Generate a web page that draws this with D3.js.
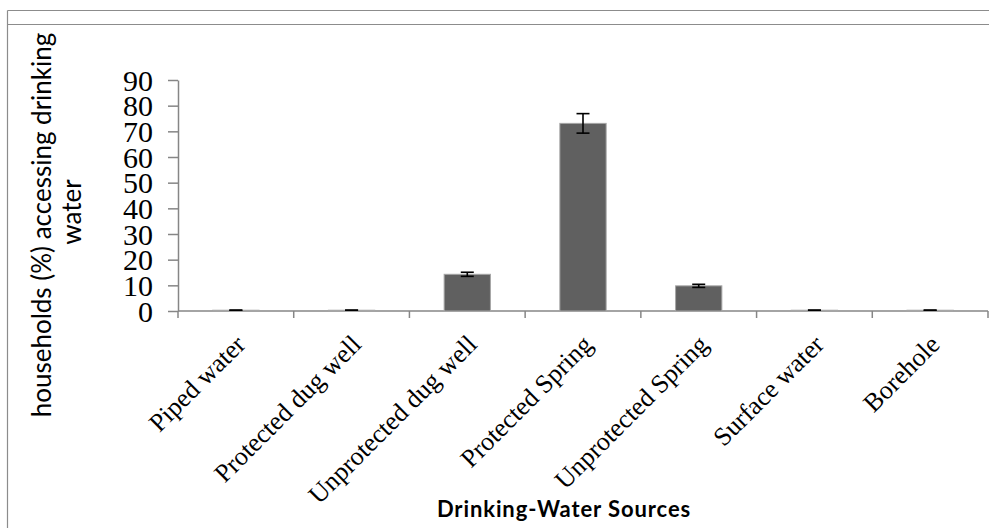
<!DOCTYPE html>
<html><head><meta charset="utf-8">
<script src="https://cdn.jsdelivr.net/npm/d3@7"></script>
<style>html,body{margin:0;padding:0;background:#fff;}</style>
</head><body>
<svg id="chart" width="989" height="528"></svg>
<script>
const categories = ["Piped water","Protected dug well","Unprotected dug well","Protected Spring","Unprotected Spring","Surface water","Borehole"];
const values = [0.3, 0.3, 14.3, 73.1, 9.8, 0.3, 0.3];
const errors = [0, 0, 0.8, 3.8, 0.6, 0, 0];
const yTicks = [0,10,20,30,40,50,60,70,80,90];
const yTitleLines = ["households (%) accessing drinking","water"];
const xTitle = "Drinking-Water Sources";

(function(){
const svg = d3.select("#chart");
const W = 989, H = 528;
const mLeft = 178, mRight = 988, mTop = 80, mBottom = 311;

// frame lines
const frame = svg.append("g").attr("stroke","#8c8c8c").attr("stroke-width",1.2).attr("fill","none");
frame.append("line").attr("x1",7.5).attr("x2",W).attr("y1",10.5).attr("y2",10.5);
frame.append("line").attr("x1",7.5).attr("x2",W).attr("y1",24.5).attr("y2",24.5);
frame.append("line").attr("x1",7.5).attr("x2",7.5).attr("y1",10.5).attr("y2",H);

const x = d3.scaleBand().domain(categories).range([mLeft, mRight]).paddingInner(0.6).paddingOuter(0.3);
const y = d3.scaleLinear().domain([0,90]).range([mBottom, mTop]);

// y axis
const yAxis = svg.append("g").attr("transform",`translate(${mLeft},0)`)
  .call(d3.axisLeft(y).tickValues(yTicks).tickSize(10).tickPadding(15).tickSizeOuter(0));
yAxis.select(".domain").attr("stroke","#868686").attr("stroke-width",1.5);
yAxis.selectAll(".tick line").attr("stroke","#868686").attr("stroke-width",1.5);
yAxis.selectAll(".tick text").attr("font-family","'Liberation Serif','Times New Roman',serif")
  .attr("font-size",30).attr("fill","#000").attr("dy","0.34em");

// x axis line + boundary ticks
const xg = svg.append("g");
xg.append("line").attr("x1",mLeft).attr("x2",mRight).attr("y1",mBottom).attr("y2",mBottom)
  .attr("stroke","#868686").attr("stroke-width",1.5);
const step = x.step();
const bounds = d3.range(categories.length+1).map(i => mLeft + i*step);
xg.selectAll("line.bt").data(bounds).enter().append("line").attr("class","bt")
  .attr("x1",d=>d).attr("x2",d=>d).attr("y1",mBottom).attr("y2",mBottom+7)
  .attr("stroke","#868686").attr("stroke-width",1.5);

// bars
svg.append("g").selectAll("rect").data(categories).enter().append("rect")
  .attr("x",d=>x(d)).attr("width",x.bandwidth())
  .attr("y",(d,i)=>y(values[i])).attr("height",(d,i)=>mBottom - y(values[i]))
  .attr("fill","#606060").attr("stroke","#a6a6a6").attr("stroke-width",1);

// error bars
const eg = svg.append("g").attr("stroke","#000").attr("stroke-width",1.6);
categories.forEach((c,i)=>{
  const cx = x(c) + x.bandwidth()/2;
  const y1 = y(values[i]+errors[i]), y2 = y(values[i]-errors[i]);
  eg.append("line").attr("x1",cx).attr("x2",cx).attr("y1",y1).attr("y2",y2);
  eg.append("line").attr("x1",cx-6.5).attr("x2",cx+6.5).attr("y1",y1).attr("y2",y1);
  eg.append("line").attr("x1",cx-6.5).attr("x2",cx+6.5).attr("y1",y2).attr("y2",y2);
});

// x labels
svg.append("g").selectAll("text").data(categories).enter().append("text")
  .attr("transform",d=>`translate(${x(d)+x.bandwidth()/2+11},${mBottom+35}) rotate(-45)`)
  .attr("text-anchor","end")
  .attr("font-family","'Liberation Serif','Times New Roman',serif")
  .attr("font-size",26).attr("fill","#000").text(d=>d);

// y title
const yCenters = [225, 212];
const yBase = [51, 81];
yTitleLines.forEach((t,i)=>{
  svg.append("text").attr("transform",`translate(${yBase[i]},${yCenters[i]}) rotate(-90)`)
    .attr("text-anchor","middle").attr("font-family","Lato, 'Open Sans', sans-serif")
    .attr("font-size",26).attr("fill","#000").text(t);
});

// x title
svg.append("text").attr("x",564).attr("y",517).attr("text-anchor","middle")
  .attr("font-family","Lato, sans-serif").attr("font-weight","bold")
  .attr("font-size",22).attr("letter-spacing","0.9px").attr("fill","#000").text(xTitle);
})();
</script>
</body></html>
